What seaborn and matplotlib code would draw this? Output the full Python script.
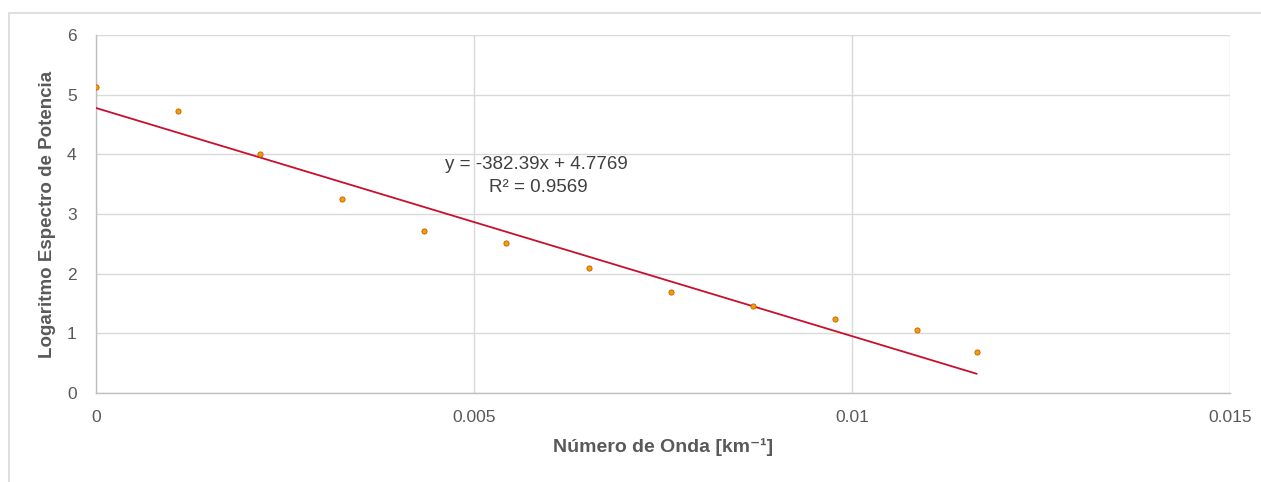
import matplotlib
matplotlib.use("Agg")
import matplotlib.pyplot as plt
import seaborn as sns
import numpy as np
import pandas as pd
from matplotlib.patches import Rectangle

# Data
wavenumber = [0.0, 0.00108, 0.00217, 0.00325, 0.00434, 0.00542,
              0.00652, 0.00761, 0.00869, 0.00978, 0.01086, 0.01165]
log_power = [5.13, 4.72, 4.00, 3.25, 2.71, 2.51,
             2.09, 1.69, 1.46, 1.24, 1.06, 0.69]
slope = -382.39
intercept = 4.7769
r2 = 0.9569
x_ticks = [0, 0.005, 0.01, 0.015]
x_tick_labels = ["0", "0.005", "0.01", "0.015"]
y_ticks = [0, 1, 2, 3, 4, 5, 6]

df = pd.DataFrame({"x": wavenumber, "y": log_power})
trend = pd.DataFrame({"x": [min(wavenumber), max(wavenumber)]})
trend["y"] = intercept + slope * trend["x"]

sns.set_style("white")
plt.rcParams["font.family"] = ["Liberation Sans", "DejaVu Sans"]

fig = plt.figure(figsize=(12.61, 4.82), dpi=100)
ax = fig.add_axes([96/1261, 1-393/482, (1230-96)/1261, (393-35)/482])

fig.patches.append(Rectangle((9/1261, -0.1), 1.2, 1-13/482+0.1,
                             transform=fig.transFigure, fill=False,
                             edgecolor="#D9D9D9", linewidth=1.2))

sns.lineplot(data=trend, x="x", y="y", ax=ax, color="#C8102E", linewidth=1.3, zorder=3)
sns.scatterplot(data=df, x="x", y="y", ax=ax, color="#F0A000", edgecolor="#C85A00",
                s=14, linewidth=0.6, zorder=4)

ax.set_xlim(0, 0.015)
ax.set_ylim(0, 6)
ax.set_xticks(x_ticks)
ax.set_xticklabels(x_tick_labels)
ax.set_yticks(y_ticks)
ax.grid(True, color="#D9D9D9", linewidth=1.0)
ax.set_axisbelow(True)
for s in ["top", "right"]:
    ax.spines[s].set_visible(False)
for s in ["left", "bottom"]:
    ax.spines[s].set_color("#BFBFBF")
    ax.spines[s].set_linewidth(1.0)
ax.tick_params(axis="both", length=0, labelsize=12.5, labelcolor="#595959")
ax.tick_params(axis="y", pad=14)
ax.tick_params(axis="x", pad=12)

ax.set_xlabel("Número de Onda [km⁻¹]", fontsize=14, fontweight="bold",
              color="#595959", labelpad=10)
ax.set_ylabel("Logaritmo Espectro de Potencia", fontsize=13.5, fontweight="bold",
              color="#595959", labelpad=8)

ax.text(0.00582, 3.83, f"y = {slope}x + {intercept}", ha="center", va="center",
        fontsize=13.5, color="#404040")
ax.text(0.00585, 3.44, f"R² = {r2}", ha="center", va="center",
        fontsize=13.5, color="#404040")

fig.savefig("out.png", dpi=100, facecolor="white")
